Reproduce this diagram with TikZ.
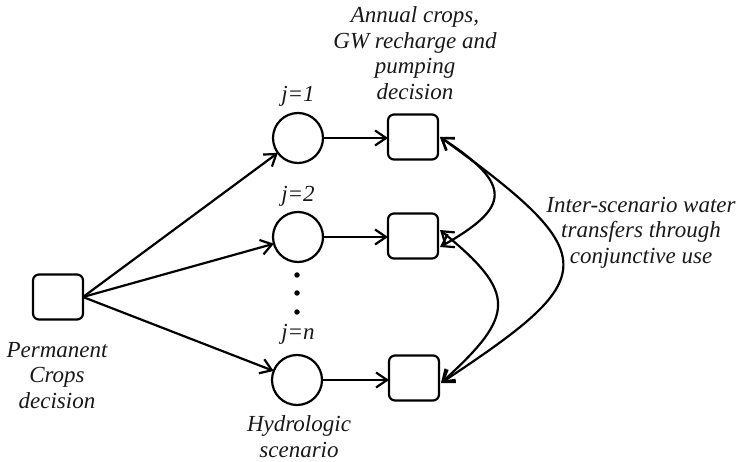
\documentclass[tikz,border=0pt]{standalone}
\usepackage{fontspec}
\setmainfont{Liberation Serif}
\usetikzlibrary{arrows.meta}
\begin{document}
\begin{tikzpicture}[x=1pt,y=-1pt,
  every node/.style={inner sep=0pt, outer sep=0pt},
  lbl/.style={font=\fontsize{23}{25.5}\selectfont\itshape, align=center, text=black!90},
  dbox/.style={draw, line width=2.2pt, rounded corners=6pt, minimum width=50pt, minimum height=45pt},
  scen/.style={draw, line width=2.2pt, circle, minimum size=50pt},
  arr/.style={line width=2.2pt, -{Straight Barb[length=11pt,width=15pt,line width=2.2pt]}},
  barr/.style={line width=2.2pt, {Straight Barb[length=11pt,width=15pt,line width=2.2pt]}-{Straight Barb[length=11pt,width=15pt,line width=2.2pt]}},
  dot/.style={fill, circle, minimum size=5.5pt}
]
\useasboundingbox (0,0) rectangle (739,462);

% decision boxes and scenario circles
\node[dbox] (lb) at (58,297) {};
\node[scen] (c1) at (298,138) {};
\node[scen] (c2) at (298,237) {};
\node[scen] (c3) at (297,380) {};
\node[dbox] (b1) at (413,137) {};
\node[dbox] (b2) at (413,236) {};
\node[dbox] (b3) at (414,378) {};

% dots
\node[dot] (d1) at (297,275) {};
\node[dot] (d2) at (297,293) {};
\node[dot] (d3) at (297,312) {};

% labels
\node[lbl, anchor=base] (j1) at (298,102) {j=1};
\node[lbl, anchor=base] (j2) at (298,202) {j=2};
\node[lbl, anchor=base] (jn) at (298,340) {j=n};
\node[lbl, anchor=north] (perm) at (57,342) {Permanent\\Crops\\decision};
\node[lbl, anchor=north] (hyd) at (299,416) {Hydrologic\\scenario};
\node[lbl, anchor=north] (ann) at (415,7) {Annual crops,\\GW recharge and\\pumping\\decision};
\node[lbl, anchor=north] (inter) at (641,197) {Inter-scenario water\\transfers through\\conjunctive use};

% arrows from permanent decision to scenarios
\coordinate (src) at (lb.east);
\draw[arr] (src) -- (c1);
\draw[arr] (src) -- (c2);
\draw[arr] (src) -- (c3);

% scenario to annual decisions
\draw[arr] (c1.east) -- (c1.east -| b1.west);
\draw[arr] (c2.east) -- (c2.east -| b2.west);
\draw[arr] (c3.east) -- (c3.east -| b3.west);

% inter-scenario transfers
\coordinate (b1r) at ([xshift=2pt]b1.east);
\coordinate (b2u) at ([xshift=2pt,yshift=-11pt]b2.east);
\coordinate (b2d) at ([xshift=2pt,yshift=6pt]b2.east);
\coordinate (b3r) at ([xshift=2pt,yshift=-5pt]b3.east);
\draw[barr] (b1r) .. controls +(73,48) and +(71,-40) .. (b2u);
\draw[barr] (b2d) .. controls +(77,63) and +(75,-68) .. (b3r);
\draw[barr] (b1r) .. controls +(168,121) and +(158,-105) .. (b3r);
\end{tikzpicture}
\end{document}
